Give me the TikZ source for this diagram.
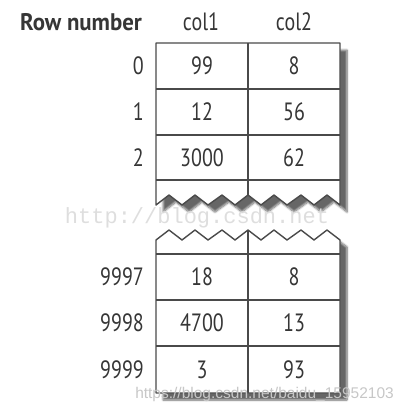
\documentclass[tikz,border=0pt]{standalone}
\usepackage{fontspec}
\setmainfont{PT Sans}
\newfontfamily\cellfont[FakeStretch=0.8]{PT Sans}
\newfontfamily\headfont[FakeStretch=0.95]{PT Sans Bold}
\newfontfamily\colfont[FakeStretch=0.8]{PT Sans}
\newfontfamily\markfont{Liberation Mono}
\newfontfamily\urlfont{Liberation Sans}
\usetikzlibrary{shadows.blur}
\definecolor{ink}{HTML}{363636}
\tikzset{
  tabline/.style={draw=ink!90,line width=1.4pt,line join=round},
  cell/.style={font=\cellfont\fontsize{25}{25}\selectfont,text=ink,inner sep=0pt},
  rownum/.style={cell,anchor=east},
  head/.style={font=\headfont\fontsize{24}{24}\selectfont,text=ink,inner sep=0pt,anchor=base},
  colhead/.style={head,font=\colfont\fontsize{25}{25}\selectfont},
}
\begin{document}
\begin{tikzpicture}[x=1pt,y=-1pt]
    \useasboundingbox (0,0) rectangle (401,410);

    % upper part of the table
    \fill[white,blur shadow={shadow xshift=7pt,shadow yshift=-7pt,shadow blur steps=8,shadow opacity=60}]
      (156,205)--(156,43)--(340,43)--(340,205)--(327,195)--(314,205)--(301,195)--(287,205)--(274,195)--(261,205)--(248,195)--(235,205)--(222,195)--(208,205)--(195,195)--(182,205)--(169,195)--cycle;
    \draw[tabline] (156,205)--(156,43)--(340,43)--(340,205)--(327,195)--(314,205)--(301,195)--(287,205)--(274,195)--(261,205)--(248,195)--(235,205)--(222,195)--(208,205)--(195,195)--(182,205)--(169,195)--cycle;
    \draw[tabline] (248,43)--(248,195);
    \draw[tabline] (156,89)--(340,89);
    \draw[tabline] (156,135)--(340,135);
    \draw[tabline] (156,180)--(340,180);

    % lower part of the table
    \fill[white,blur shadow={shadow xshift=7pt,shadow yshift=-7pt,shadow blur steps=8,shadow opacity=60}]
      (156,240)--(169,230)--(182,240)--(195,230)--(208,240)--(222,230)--(235,240)--(248,230)--(261,240)--(274,230)--(287,240)--(301,230)--(314,240)--(327,230)--(340,240)--(340,393)--(156,393)--cycle;
    \draw[tabline] (156,240)--(169,230)--(182,240)--(195,230)--(208,240)--(222,230)--(235,240)--(248,230)--(261,240)--(274,230)--(287,240)--(301,230)--(314,240)--(327,230)--(340,240)--(340,393)--(156,393)--cycle;
    \draw[tabline] (248,230)--(248,393);
    \draw[tabline] (156,254)--(340,254);
    \draw[tabline] (156,300)--(340,300);
    \draw[tabline] (156,346)--(340,346);

    \node[head] (rowhead) at (81,30) {Row number};
    \node[colhead] (colone) at (201,30) {col1};
    \node[colhead] (coltwo) at (294,30) {col2};

    \node[rownum] (row0) at (144,66) {0};
    \node[rownum] (row1) at (144,112) {1};
    \node[rownum] (row2) at (144,158) {2};
    \node[rownum] (row9997) at (144,277) {9997};
    \node[rownum] (row9998) at (144,323) {9998};
    \node[rownum] (row9999) at (144,370) {9999};

    \node[cell] (a0) at (202,66) {99};
    \node[cell] (b0) at (294,66) {8};
    \node[cell] (a1) at (202,112) {12};
    \node[cell] (b1) at (294,112) {56};
    \node[cell] (a2) at (202,158) {3000};
    \node[cell] (b2) at (294,158) {62};
    \node[cell] (a9997) at (202,277) {18};
    \node[cell] (b9997) at (294,277) {8};
    \node[cell] (a9998) at (202,323) {4700};
    \node[cell] (b9998) at (294,323) {13};
    \node[cell] (a9999) at (202,370) {3};
    \node[cell] (b9999) at (294,370) {93};

    % watermarks
    \node[font=\markfont\fontsize{22}{22}\selectfont,text=black!13,inner sep=0pt] (markone) at (197,218) {http://blog.csdn.net};
    \node[font=\urlfont\fontsize{15.5}{15.5}\selectfont,text=black!22,inner sep=0pt,anchor=base east] (marktwo) at (394,398) {https://blog.csdn.net/baidu\_15952103};
  \end{tikzpicture}
\end{document}
